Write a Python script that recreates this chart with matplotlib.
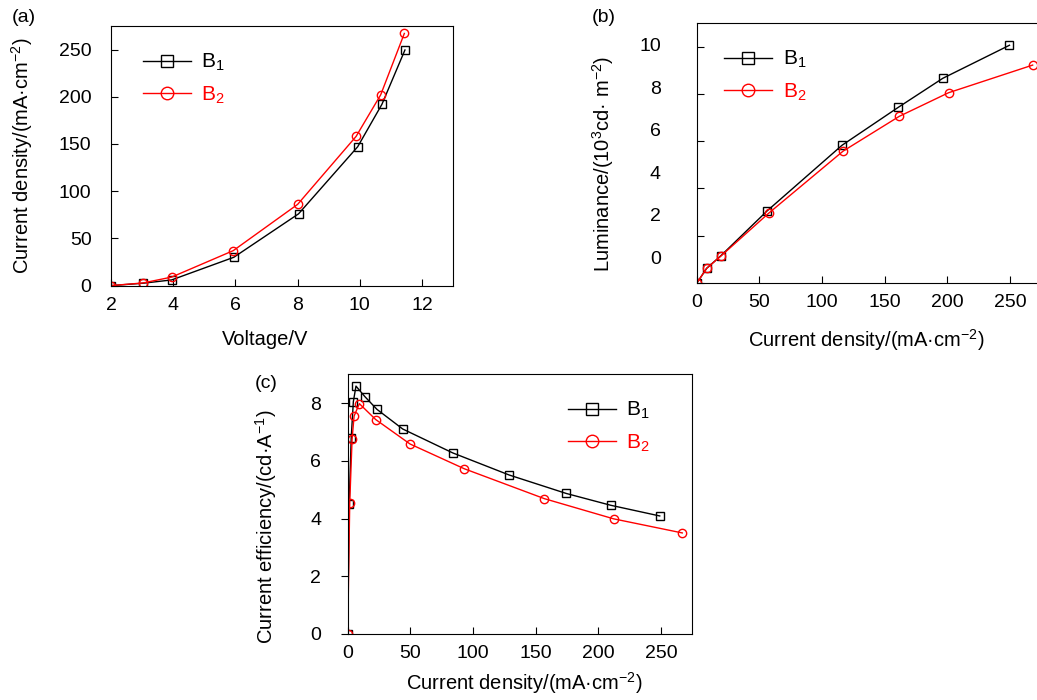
# J-V, L-J and CE-J curves of devices B1 and B2

import matplotlib
matplotlib.use('Agg')
import matplotlib.pyplot as plt

plt.rcParams['font.family'] = ['Liberation Sans', 'DejaVu Sans']
plt.rcParams['mathtext.fontset'] = 'custom'
plt.rcParams['mathtext.rm'] = 'Liberation Sans'
plt.rcParams['mathtext.it'] = 'Liberation Sans:italic'
plt.rcParams['font.size'] = 14

# (a) current density vs voltage
a_v1 = [2.0, 3.03, 3.95, 5.95, 8.03, 9.93, 10.71, 11.45]
a_j1 = [0, 2.5, 6, 30, 76, 147, 192, 249.5]
a_v2 = [2.0, 3.03, 3.95, 5.93, 8.0, 9.88, 10.67, 11.43]
a_j2 = [0, 2.8, 9, 37, 86, 158, 202, 267]

# (b) luminance vs current density
b_j1 = [0, 7.8, 19.3, 56.3, 116, 160.8, 196.4, 249.7]
b_l1 = [0, 0.62, 1.16, 3.06, 5.83, 7.43, 8.66, 10.06]
b_j2 = [0, 7.8, 19.6, 57.3, 116.8, 161.6, 201, 268.2]
b_l2 = [0, 0.62, 1.16, 2.95, 5.58, 7.05, 8.05, 9.22]
b_yticks = [0, 2, 4, 6, 8, 10]

# (c) current efficiency vs current density
c_j1 = [0, 1.2, 2.8, 4.5, 6.6, 13.8, 23.4, 43.9, 83.8, 129, 174.5, 210, 249]
c_e1 = [0, 4.52, 6.8, 8.06, 8.6, 8.23, 7.79, 7.11, 6.28, 5.51, 4.87, 4.46, 4.09]
c_j2 = [0, 1.6, 3.5, 5.1, 9.3, 22.3, 49.7, 93, 157, 212.2, 267]
c_e2 = [0, 4.53, 6.76, 7.56, 7.99, 7.44, 6.59, 5.73, 4.69, 3.99, 3.5]

fig = plt.figure(figsize=(10.37, 7), dpi=100)
ax_a = fig.add_axes([0.107, 0.592, 0.330, 0.371])
ax_b = fig.add_axes([0.672, 0.5957, 0.332, 0.3714])
ax_c = fig.add_axes([0.3353, 0.0947, 0.3317, 0.371])

sq = dict(color='black', marker='s', ms=5.5, mfc='none', mew=1, lw=1)
ci = dict(color='red', marker='o', ms=6, mfc='none', mew=1, lw=1)
leg = dict(frameon=False, labelcolor='linecolor', fontsize=15, markerscale=1.5,
           handlelength=2.3, handletextpad=0.5, labelspacing=0.55,
           borderpad=0, borderaxespad=0)

# (a)
ax_a.plot(a_v1, a_j1, label='B$_1$', **sq)
ax_a.plot(a_v2, a_j2, label='B$_2$', **ci)
ax_a.set_xlim(2, 13)
ax_a.set_ylim(0, 275)
ax_a.set_xticks([2, 4, 6, 8, 10, 12])
ax_a.set_yticks([0, 50, 100, 150, 200, 250])
ax_a.tick_params(direction='in', length=5)
ax_a.tick_params(axis='y', pad=14)
ax_a.tick_params(axis='x', pad=8)
ax_a.set_xlabel('Voltage/V', fontsize=14.5)
ax_a.set_ylabel('Current density/(mA·cm$^{-2}$)', fontsize=14.5)
ax_a.xaxis.set_label_coords(0.449, -0.172)
ax_a.yaxis.set_label_coords(-0.222, 0.5)
ax_a.legend(loc='upper left', bbox_to_anchor=(0.093, 0.9), **leg)

# (b)
ax_b.plot(b_j1, b_l1, label='B$_1$', **sq)
ax_b.plot(b_j2, b_l2, label='B$_2$', **ci)
ax_b.set_xlim(0, 275)
ax_b.set_ylim(0, 11.0)
ax_b.set_xticks([0, 50, 100, 150, 200, 250])
# the printed labels sit a little off their ticks in the original
ax_b.set_yticks(b_yticks)
ax_b.set_yticklabels([])
ax_b.set_yticks([1.09 + 0.899 * v for v in b_yticks], minor=True)
ax_b.set_yticklabels([str(v) for v in b_yticks], minor=True)
ax_b.tick_params(direction='in', length=5)
ax_b.tick_params(axis='y', which='minor', length=0, pad=26)
ax_b.tick_params(axis='x', pad=8)
ax_b.set_xlabel('Current density/(mA·cm$^{-2}$)', fontsize=14.5)
ax_b.set_ylabel('Luminance/(10$^3$cd· m$^{-2}$)', fontsize=14.5)
ax_b.xaxis.set_label_coords(0.491, -0.168)
ax_b.yaxis.set_label_coords(-0.236, 0.46)
ax_b.legend(loc='upper left', bbox_to_anchor=(0.08, 0.9), **leg)

# (c)
ax_c.plot(c_j1, c_e1, label='B$_1$', **sq)
ax_c.plot(c_j2, c_e2, label='B$_2$', **ci)
ax_c.set_xlim(0, 274.5)
ax_c.set_ylim(0, 9.02)
ax_c.set_xticks([0, 50, 100, 150, 200, 250])
ax_c.set_yticks([0, 2, 4, 6, 8])
ax_c.tick_params(axis='x', direction='in', length=5, pad=8)
ax_c.tick_params(axis='y', direction='out', length=5, pad=14)
ax_c.set_xlabel('Current density/(mA·cm$^{-2}$)', fontsize=14.5)
ax_c.set_ylabel('Current efficiency/(cd·A$^{-1}$)', fontsize=14.5)
ax_c.xaxis.set_label_coords(0.513, -0.14)
ax_c.yaxis.set_label_coords(-0.2, 0.41)
ax_c.legend(loc='upper left', bbox_to_anchor=(0.64, 0.9), **leg)

fig.text(12 / 1037, 1 - 17 / 700, '(a)', fontsize=14, va='center')
fig.text(592 / 1037, 1 - 17 / 700, '(b)', fontsize=14, va='center')
fig.text(255 / 1037, 1 - 383 / 700, '(c)', fontsize=14, va='center')

fig.savefig('out.png', dpi=100)
